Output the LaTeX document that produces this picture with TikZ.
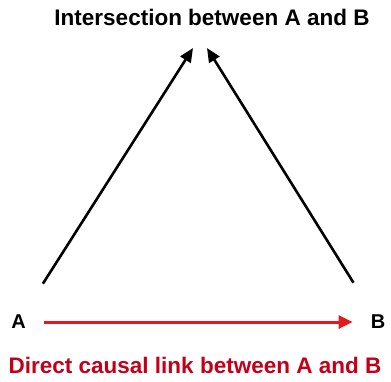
\documentclass[tikz,border=0pt]{standalone}
\usepackage{fontspec}
\setmainfont{Liberation Sans}
\usepackage{tikz}
\usetikzlibrary{arrows.meta, calc}
\definecolor{linkred}{HTML}{E3191E}
\definecolor{capred}{HTML}{C40018}

\begin{document}
\begin{tikzpicture}[
  x=1pt, y=-1pt,
  title/.style={font=\fontsize{22.5}{26}\selectfont\bfseries, inner sep=0pt, anchor=base},
  var/.style={font=\fontsize{20}{22}\selectfont\bfseries, inner sep=0pt},
  arr/.style={-{Triangle[length=14pt, width=12pt]}, line width=2.6pt, black},
  redarr/.style={-{Triangle[length=14pt, width=13pt]}, line width=3pt, linkred}
]
  \useasboundingbox (0, 0) rectangle (391, 381);

  \node[title] (inter) at (212, 25) {Intersection between A and B};
  \node[title, text=capred] (direct) at (195, 373) {Direct causal link between A and B};

  \node[var] (A) at (18.5, 322) {A};
  \node[var] (B) at (378, 322) {B};

  \coordinate (tipL) at (193, 48);
  \coordinate (tipR) at (207, 48);

  \draw[arr, shorten <=37pt] (A) -- (tipL);
  \draw[arr, shorten <=38pt] (B) -- (tipR);
  \draw[redarr, shorten <=18pt, shorten >=18pt] (A) -- (B);
\end{tikzpicture}
\end{document}
